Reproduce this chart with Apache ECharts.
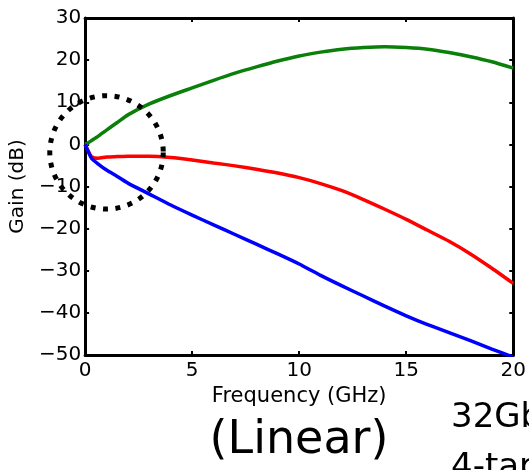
<!DOCTYPE html>
<html>
<head>
<meta charset="utf-8">
<script src="https://cdn.jsdelivr.net/npm/echarts@6/dist/echarts.min.js"></script>
<style>
  html, body { margin: 0; padding: 0; background: #fff; }
  #chart { width: 529px; height: 470px; }
</style>
</head>
<body>
<div id="chart"></div>
<script>
/* Gain vs frequency */
const freq = [0, 0.15, 0.3, 0.6, 1, 1.5, 2, 3, 4, 5, 6, 7, 8, 9, 10, 11, 12, 13, 14, 15, 16, 17, 18, 19, 20];
const gainGreen = [0, 0.4, 0.9, 1.9, 3.4, 5.2, 7.0, 9.6, 11.6, 13.4, 15.2, 16.9, 18.4, 19.8, 21.0, 21.9, 22.6, 23.0, 23.2, 23.0, 22.6, 21.8, 20.8, 19.6, 18.1];
const gainRed = [0, -1.6, -2.9, -3.3, -3.0, -2.9, -2.8, -2.8, -3.1, -3.7, -4.4, -5.1, -5.9, -6.8, -7.9, -9.3, -11.0, -13.1, -15.4, -17.8, -20.4, -23.0, -26.0, -29.4, -33.0];
const gainBlue = [0, -1.8, -3.3, -4.6, -6.1, -7.6, -9.2, -11.8, -14.4, -16.8, -19.1, -21.4, -23.7, -26.0, -28.4, -31.1, -33.6, -36.0, -38.4, -40.7, -42.8, -44.7, -46.6, -48.6, -50.5];
const xTicks = [0, 5, 10, 15, 20];
const yTicks = [-50, -40, -30, -20, -10, 0, 10, 20, 30];

const FONT = "'DejaVu Sans', sans-serif";
const minus = v => String(v).replace("-", "\u2212");

function pairs(ys) {
  return freq.map((f, i) => [f, ys[i]]);
}

function axisBase(show) {
  return {
    type: "value",
    axisLine: { onZero: false, lineStyle: { color: "#000", width: 3 } },
    axisTick: { inside: true, length: 4, lineStyle: { color: "#000", width: 2 } },
    axisLabel: { show: show, color: "#000", fontFamily: FONT, fontSize: 20, formatter: minus },
    splitLine: { show: false }
  };
}

const chart = echarts.init(document.getElementById("chart"), null, { renderer: "canvas" });

const xMain = Object.assign(axisBase(true), {
  position: "bottom", min: xTicks[0], max: xTicks[xTicks.length - 1], interval: 5,
  name: "Frequency (GHz)", nameLocation: "middle", nameGap: 28,
  nameTextStyle: { color: "#000", fontFamily: FONT, fontSize: 21 }
});
xMain.axisLabel.margin = 6;
const xTop = Object.assign(axisBase(false), {
  position: "top", min: xTicks[0], max: xTicks[xTicks.length - 1], interval: 5
});
const yMain = Object.assign(axisBase(true), {
  position: "left", min: yTicks[0], max: yTicks[yTicks.length - 1], interval: 10,
  name: "Gain (dB)", nameLocation: "middle", nameGap: 49,
  nameTextStyle: { color: "#000", fontFamily: FONT, fontSize: 20 }
});
yMain.axisLabel.margin = 4;
const yRight = Object.assign(axisBase(false), {
  position: "right", min: yTicks[0], max: yTicks[yTicks.length - 1], interval: 10
});

function line(data, color) {
  return {
    type: "line", data: pairs(data), showSymbol: false, smooth: 0.2,
    xAxisIndex: 0, yAxisIndex: 0,
    lineStyle: { color: color, width: 3.5 }, itemStyle: { color: color }
  };
}

chart.setOption({
  animation: false,
  backgroundColor: "#fff",
  grid: { left: 82, right: 15, top: 18, bottom: 115 },
  xAxis: [xMain, xTop],
  yAxis: [yMain, yRight],
  series: [
    line(gainGreen, "#0a800a"),
    line(gainRed, "#ff0000"),
    line(gainBlue, "#0000ff")
  ]
});

// dotted circle round the low-frequency region, placed in data coordinates
const c = chart.convertToPixel({ gridIndex: 0 }, [1.0, -1.9]);
const edge = chart.convertToPixel({ gridIndex: 0 }, [3.65, -1.9]);
const r = edge[0] - c[0];

chart.setOption({
  graphic: [
    {
      type: "circle", z: 100,
      shape: { cx: c[0], cy: c[1], r: r },
      style: { fill: "none", stroke: "#000", lineWidth: 5, lineDash: [5, 7.5] }
    },
    {
      type: "text", x: 299, y: 441,
      style: { text: "(Linear)", fill: "#000", font: "46px " + FONT, align: "center", verticalAlign: "middle" }
    },
    {
      type: "text", x: 451, y: 418,
      style: { text: "32Gb", fill: "#000", font: "34px " + FONT, align: "left", verticalAlign: "middle" }
    },
    {
      type: "text", x: 451, y: 468,
      style: { text: "4-tap", fill: "#000", font: "34px " + FONT, align: "left", verticalAlign: "middle" }
    }
  ]
});
</script>
</body>
</html>
